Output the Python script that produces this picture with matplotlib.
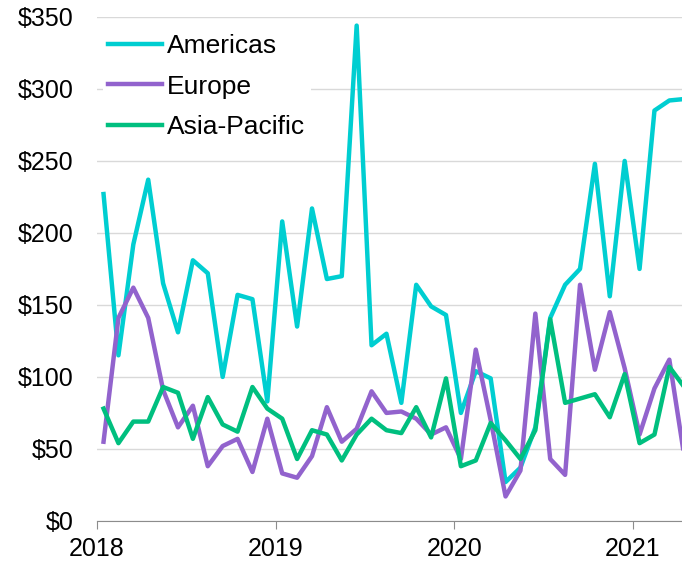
import numpy as np
import matplotlib.pyplot as plt

plt.rcParams['font.family'] = ['Liberation Sans', 'DejaVu Sans']

# monthly values, Jan 2018 - Apr 2021
americas = [227, 115, 192, 237, 165, 131, 181, 172, 100, 157, 154, 83,
            208, 135, 217, 168, 170, 344, 122, 130, 82, 164, 149, 143,
            75, 104, 99, 27, 37, 65, 141, 164, 175, 248, 156, 250,
            175, 285, 292, 293]
europe = [55, 141, 162, 141, 91, 65, 80, 38, 52, 57, 34, 71,
          33, 30, 45, 79, 55, 64, 90, 75, 76, 71, 60, 65,
          43, 119, 70, 17, 35, 144, 43, 32, 164, 105, 145, 106,
          60, 92, 112, 45]
asia_pacific = [78, 54, 69, 69, 93, 89, 57, 86, 67, 62, 93, 78,
                71, 43, 63, 60, 42, 60, 71, 63, 61, 79, 58, 99,
                38, 42, 68, 56, 43, 63, 140, 82, 85, 88, 72, 102,
                54, 60, 107, 93]
years = ['2018', '2019', '2020', '2021']
yticks = [0, 50, 100, 150, 200, 250, 300, 350]

x = np.arange(len(americas)) + 0.45

fig = plt.figure(figsize=(6.82, 5.65), dpi=100)
ax = fig.add_axes([0.142, 0.078, 0.858, 0.892])

ax.plot(x, americas, color='#00CED1', lw=3.2, label='Americas')
ax.plot(x, europe, color='#9263CD', lw=3.2, label='Europe')
ax.plot(x, asia_pacific, color='#00BF7F', lw=3.2, label='Asia-Pacific')

ax.set_ylim(0, 350)
ax.set_xlim(0, 39.3)
ax.set_yticks(yticks)
ax.set_yticklabels(['$' + str(v) for v in yticks])
ax.set_xticks([0, 12, 24, 36])
ax.set_xticklabels(years)
ax.yaxis.grid(True, color='#D9D9D9', lw=1)
ax.set_axisbelow(True)

for s in ['top', 'right', 'left']:
    ax.spines[s].set_visible(False)
ax.spines['bottom'].set_color('#8C8C8C')
ax.tick_params(axis='y', length=0, pad=17, labelsize=18)
ax.tick_params(axis='x', length=5.5, color='#8C8C8C', pad=6, labelsize=18)

leg = ax.legend(loc='upper left', bbox_to_anchor=(0.01, 0.976), borderaxespad=0,
                borderpad=0.2, fontsize=19, handlelength=2.05, handletextpad=0.2,
                labelspacing=0.62, frameon=True, framealpha=1, edgecolor='none',
                fancybox=False)

fig.savefig('out.png', dpi=100)
